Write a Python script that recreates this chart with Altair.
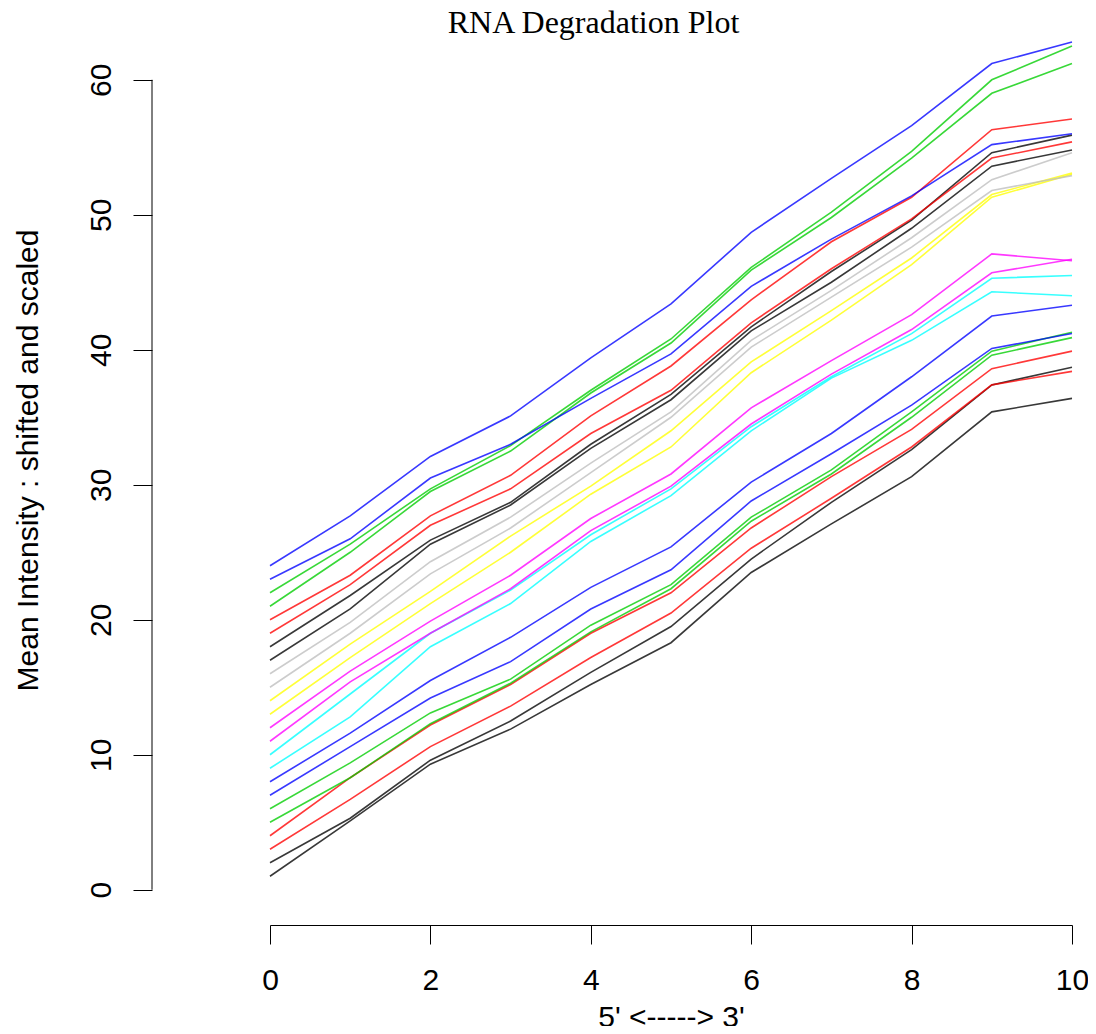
import altair as alt
import pandas as pd

# positions along the probe set (5' -> 3')
positions = [0, 1, 2, 3, 4, 5, 6, 7, 8, 9, 10]

# one list per array, shifted by its index
s01 = [1, 5.1, 9.3, 11.9, 15.2, 18.3, 23.5, 27.1, 30.6, 35.4, 36.4]
s02 = [2, 5.3, 9.6, 12.5, 16.1, 19.5, 24.5, 28.7, 32.6, 37.4, 38.7]
s03 = [3, 6.7, 10.6, 13.6, 17.2, 20.5, 25.3, 29.0, 32.8, 37.4, 38.4]
s04 = [4, 8.3, 12.2, 15.2, 19.0, 22.0, 26.8, 30.6, 34.1, 38.6, 39.9]
s05 = [5, 8.3, 12.3, 15.3, 19.1, 22.3, 27.3, 30.8, 35.0, 39.6, 40.9]
s06 = [6, 9.4, 13.1, 15.6, 19.6, 22.6, 27.6, 31.1, 35.4, 39.9, 41.3]
s07 = [7, 10.6, 14.2, 16.9, 20.8, 23.7, 28.8, 32.3, 35.9, 40.1, 41.2]
s08 = [8, 11.6, 15.5, 18.7, 22.4, 25.4, 30.2, 33.8, 38.0, 42.5, 43.3]
s09 = [9, 12.8, 18.0, 21.2, 25.8, 29.2, 34.0, 37.9, 40.7, 44.3, 44.0]
s10 = [10, 14.5, 19.0, 22.2, 26.3, 29.7, 34.3, 38.0, 41.2, 45.3, 45.5]
s11 = [11, 15.4, 19.0, 22.3, 26.6, 29.9, 34.5, 38.2, 41.5, 45.7, 46.7]
s12 = [12, 16.2, 19.9, 23.3, 27.5, 30.8, 35.7, 39.2, 42.6, 47.1, 46.6]
s13 = [13, 17.2, 21.2, 25.0, 29.3, 32.8, 38.3, 42.2, 46.3, 51.3, 53.0]
s14 = [14, 18.2, 22.1, 26.2, 29.9, 34.0, 39.1, 42.9, 46.8, 51.5, 53.1]
s15 = [15, 19.0, 23.4, 26.8, 30.9, 35.0, 40.2, 43.9, 47.6, 51.8, 52.9]
s16 = [16, 19.8, 24.3, 27.6, 31.6, 35.4, 40.7, 44.4, 48.3, 52.6, 54.6]
s17 = [17, 20.8, 25.6, 28.5, 32.7, 36.3, 41.4, 45.0, 49.0, 53.6, 54.8]
s18 = [18, 21.8, 25.9, 28.7, 33.0, 36.7, 41.7, 45.8, 49.6, 54.6, 55.9]
s19 = [19, 22.6, 27.0, 29.7, 33.8, 37.0, 42.0, 46.0, 49.7, 54.2, 55.4]
s20 = [20, 23.3, 27.7, 30.7, 35.1, 38.8, 43.7, 48.0, 51.3, 56.3, 57.1]
s21 = [21, 25.0, 29.5, 32.5, 36.8, 40.5, 45.9, 49.8, 54.2, 59.0, 61.2]
s22 = [22, 25.6, 29.7, 32.9, 37.0, 40.8, 46.1, 50.2, 54.7, 60.0, 62.5]
s23 = [23, 26.0, 30.5, 33.0, 36.4, 39.7, 44.7, 48.2, 51.4, 55.2, 56.0]
s24 = [24, 27.7, 32.1, 35.1, 39.4, 43.4, 48.7, 52.7, 56.6, 61.2, 62.8]

series_values = [s01, s02, s03, s04, s05, s06, s07, s08, s09, s10, s11, s12,
                 s13, s14, s15, s16, s17, s18, s19, s20, s21, s22, s23, s24]
series_ids = ["S%02d" % (i + 1) for i in range(len(series_values))]

# R default palette, each colour used for two consecutive arrays
palette = ["#000000", "#FF0000", "#00CD00", "#0000FF",
           "#00FFFF", "#FF00FF", "#FFFF00", "#BEBEBE"]
series_colors = [palette[(i // 2) % 8] for i in range(len(series_values))]

x_ticks = [0, 2, 4, 6, 8, 10]
y_ticks = [0, 10, 20, 30, 40, 50, 60]

main_title = "RNA Degradation Plot"
x_title = "5' <-----> 3'"
y_title = "Mean Intensity : shifted and scaled"

rows = []
for sid, vals in zip(series_ids, series_values):
    for xp, yv in zip(positions, vals):
        rows.append({"series": sid, "pos": xp, "val": yv})
df = pd.DataFrame(rows)

LABEL_FONT = "Liberation Sans"

lines = alt.Chart(df).mark_line(strokeWidth=1.6, opacity=0.78).encode(
    x=alt.X("pos:Q",
            scale=alt.Scale(domain=[0, 10], nice=False, zero=False),
            axis=alt.Axis(values=x_ticks, title=x_title, grid=False,
                          offset=15, tickSize=19, tickColor="black", tickWidth=1,
                          domainColor="black", domainWidth=1,
                          labelFont=LABEL_FONT, labelFontSize=30, labelColor="black",
                          labelPadding=21, labelFlush=False, labelOverlap=False,
                          titleFont=LABEL_FONT, titleFontSize=30, titleFontWeight="normal",
                          titleColor="black", titlePadding=7)),
    y=alt.Y("val:Q",
            scale=alt.Scale(domain=[-1.5, 63.096], nice=False, zero=False),
            axis=alt.Axis(values=y_ticks, title=y_title,
                          grid=False, domain=False, offset=118, tickSize=19,
                          tickColor="black", tickWidth=1,
                          labelFont=LABEL_FONT, labelFontSize=30, labelColor="black",
                          labelAngle=-90, labelAlign="center", labelBaseline="bottom",
                          labelPadding=17, labelFlush=False, labelOverlap=False,
                          titleFont=LABEL_FONT, titleFontSize=30, titleFontWeight="normal",
                          titleColor="black", titlePadding=43, titleY=422)),
    color=alt.Color("series:N", scale=alt.Scale(domain=series_ids, range=series_colors),
                    legend=None),
)

yaxis_line = alt.Chart(pd.DataFrame({"a": [0]})).mark_rule(
    color="black", strokeWidth=1).encode(
    x=alt.value(-118), y=alt.datum(y_ticks[0]), y2=alt.datum(y_ticks[-1]))

title_mark = alt.Chart(pd.DataFrame({"t": [main_title]})).mark_text(
    font="Liberation Serif", fontSize=32, color="black",
    align="center", baseline="alphabetic").encode(
    text="t:N", x=alt.value(323.5), y=alt.value(-5))

chart = alt.layer(lines, yaxis_line, title_mark).properties(
    width=802, height=872,
    autosize=alt.AutoSizeParams(type="none"),
    padding={"left": 262, "top": 30, "right": 16, "bottom": 116},
).configure_view(stroke=None)

chart.save("out.html", embed_options={"renderer": "svg", "actions": False})
